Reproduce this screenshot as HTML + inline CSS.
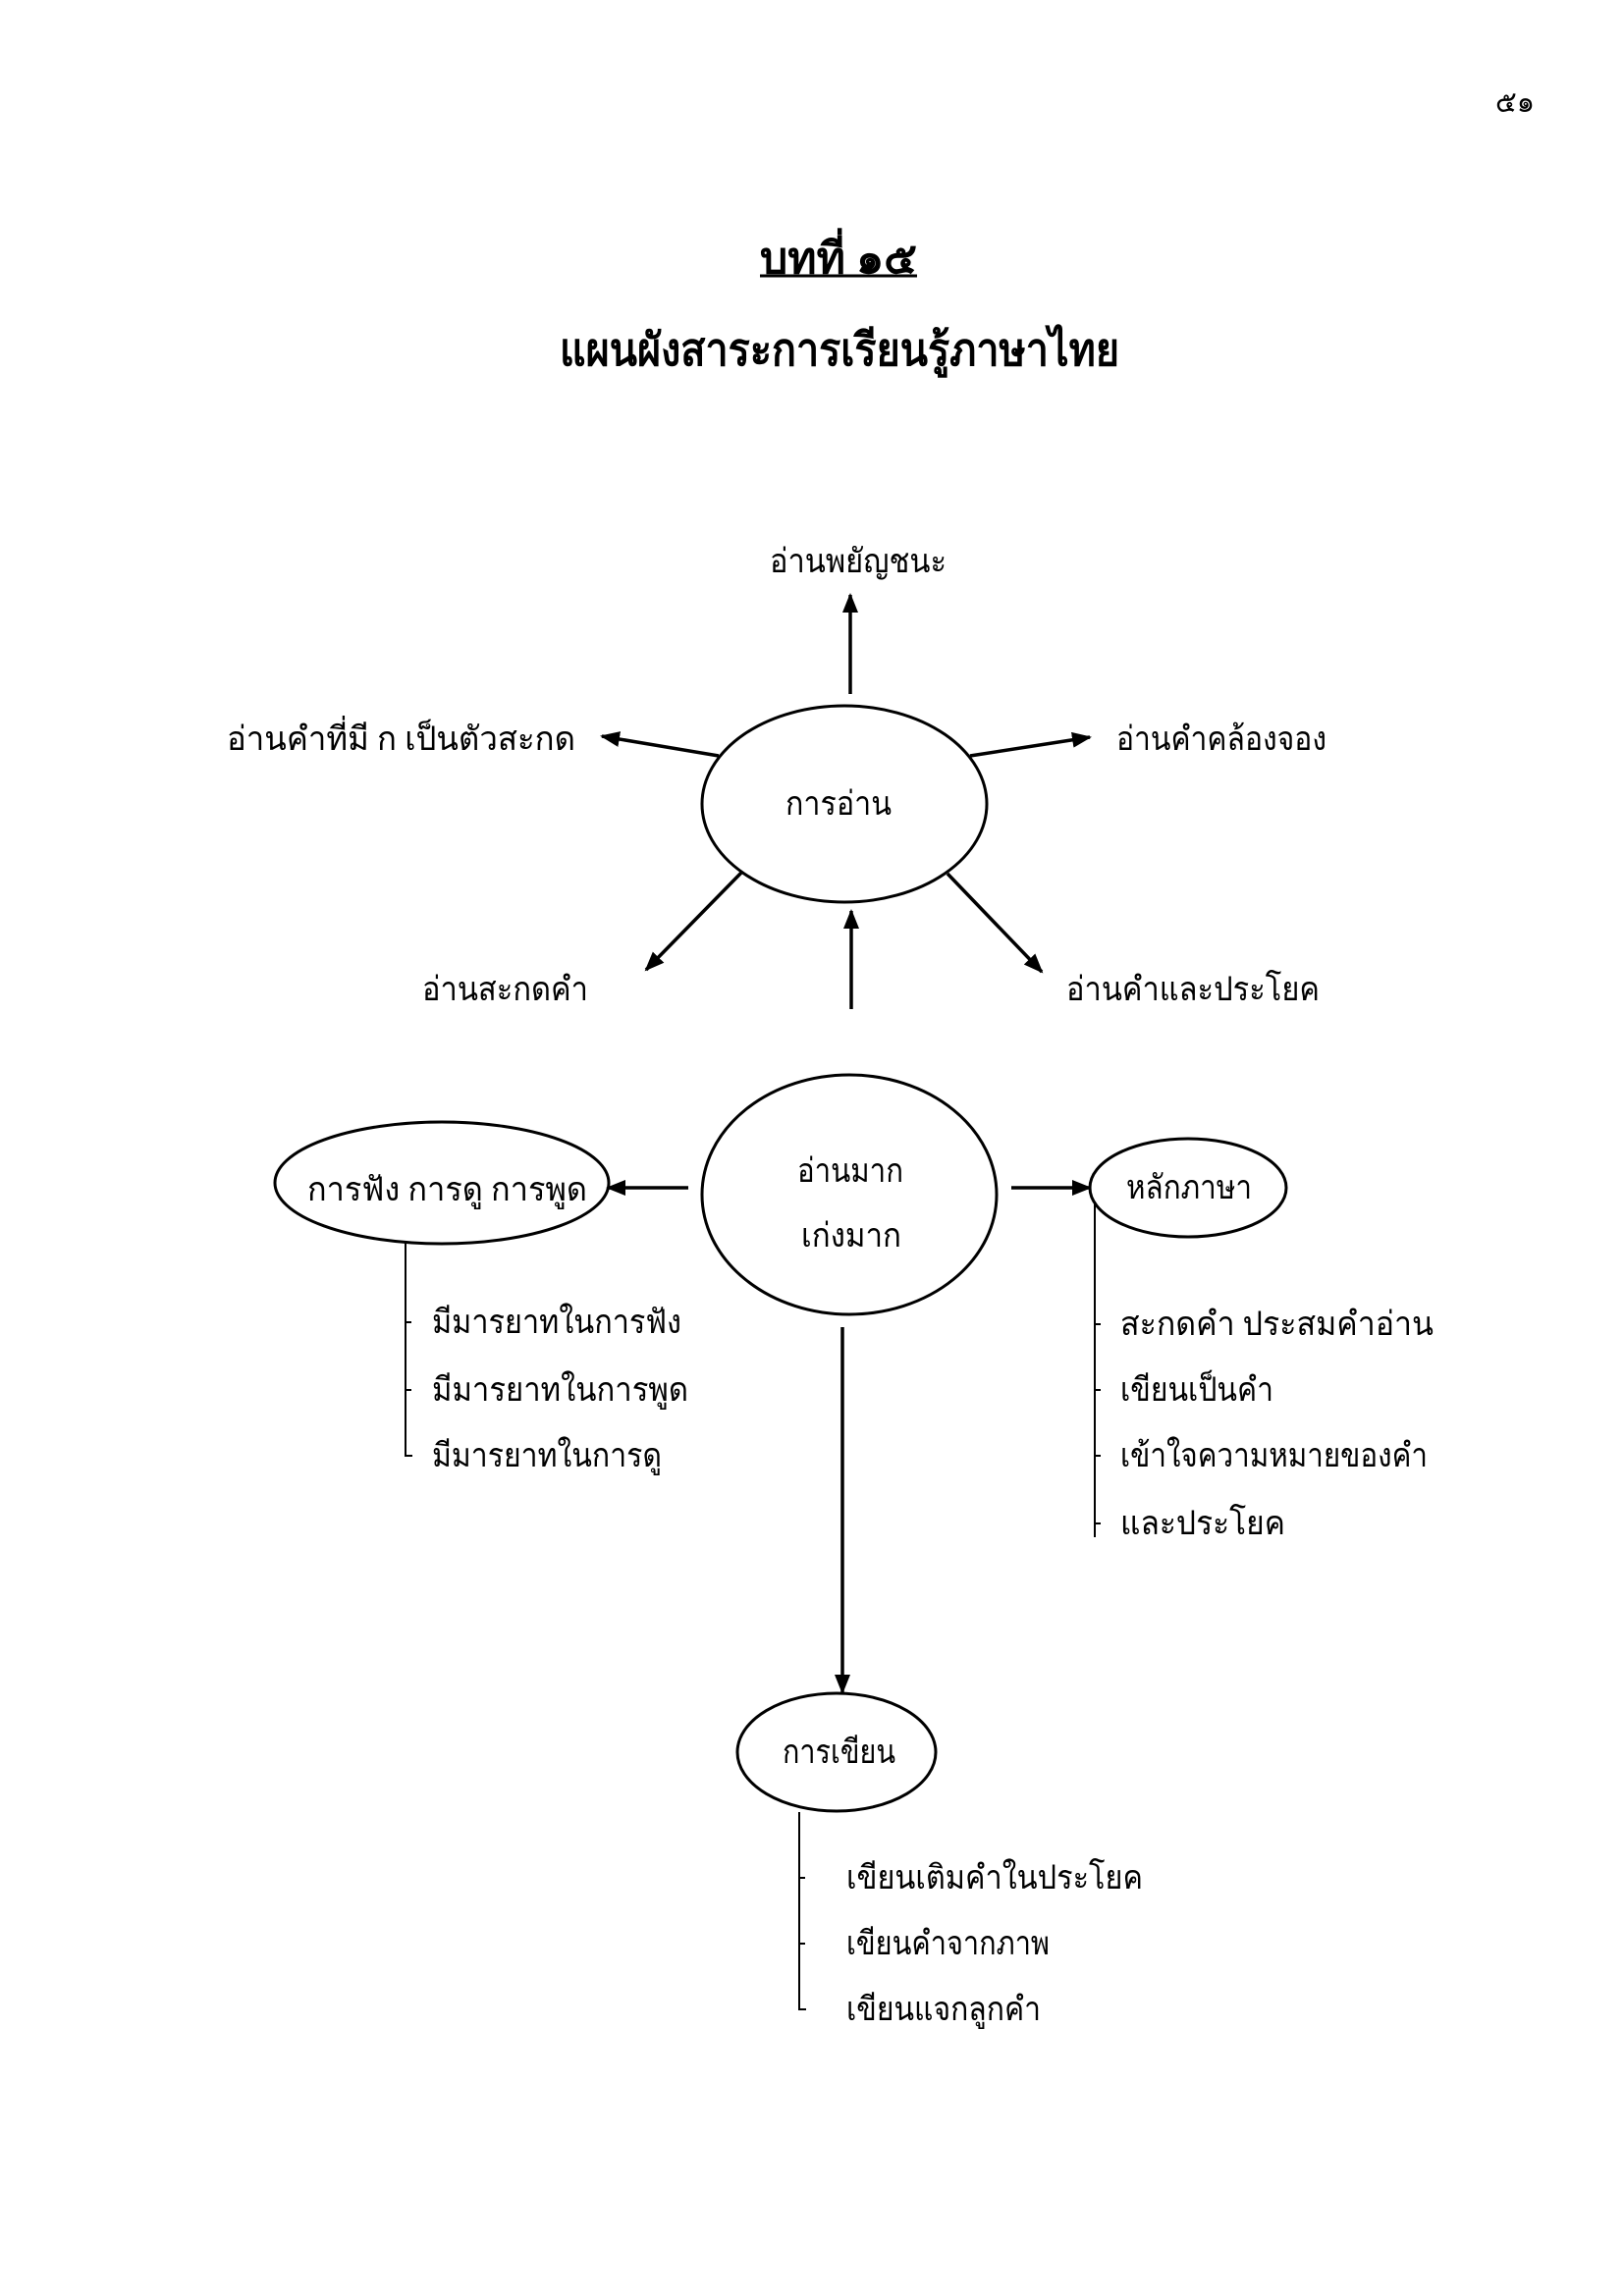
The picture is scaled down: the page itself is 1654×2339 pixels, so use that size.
<!DOCTYPE html>
<html><head><meta charset="utf-8"><style>
html,body{margin:0;padding:0;background:#fff;}
svg{display:block}
text{font-family:"Liberation Serif","Noto Serif CJK SC","Noto Sans CJK SC",serif;fill:#000;}
</style></head><body>
<svg width="1654" height="2339" viewBox="0 0 1654 2339" xmlns="http://www.w3.org/2000/svg">
<defs>
<marker id="a" markerWidth="20" markerHeight="16" refX="18" refY="8" orient="auto" markerUnits="userSpaceOnUse" viewBox="0 0 20 16">
<path d="M0,0 L20,8 L0,16 z" fill="#000"/>
</marker>
</defs>
<g font-size="30">
<text x="1523" y="114" textLength="40" lengthAdjust="spacingAndGlyphs">๕๑</text>
</g>
<g font-weight="bold">
<text x="774" y="278" font-size="44" textLength="160" lengthAdjust="spacingAndGlyphs">บทที่ ๑๕</text>
<line x1="774" y1="281" x2="934" y2="281" stroke="#000" stroke-width="3"/>
<text x="570" y="372" font-size="46" textLength="570" lengthAdjust="spacingAndGlyphs">แผนผังสาระการเรียนรู้ภาษาไทย</text>
</g>
<g fill="none" stroke="#000" stroke-width="3">
<ellipse cx="860" cy="819" rx="145" ry="100"/>
<ellipse cx="865" cy="1217" rx="150" ry="122"/>
<ellipse cx="450" cy="1205" rx="170" ry="62"/>
<ellipse cx="1210" cy="1210" rx="100" ry="50"/>
<ellipse cx="852" cy="1785" rx="101" ry="60"/>
</g>
<g stroke="#000" stroke-width="3.5" marker-end="url(#a)">
<line x1="866" y1="707" x2="866" y2="606"/>
<line x1="732" y1="770" x2="613" y2="750"/>
<line x1="988" y1="770" x2="1110" y2="751"/>
<line x1="755" y1="889" x2="658" y2="988"/>
<line x1="965" y1="890" x2="1061" y2="990"/>
<line x1="867" y1="1028" x2="867" y2="928"/>
<line x1="701" y1="1210" x2="619" y2="1210"/>
<line x1="1030" y1="1210" x2="1110" y2="1210"/>
<line x1="858" y1="1352" x2="858" y2="1724"/>
</g>
<g stroke="#000" stroke-width="2" fill="none">
<path d="M413,1266 V1483 H420"/>
<path d="M413,1347 H419 M413,1416 H419"/>
<path d="M1115,1224 V1566"/>
<path d="M1115,1349 H1121 M1115,1416 H1121 M1115,1483 H1121 M1115,1552 H1121"/>
<path d="M814,1846 V2047 H821"/>
<path d="M814,1913 H820 M814,1980 H820"/>
</g>
<g font-size="34">
<text x="784" y="583" textLength="180" lengthAdjust="spacingAndGlyphs">อ่านพยัญชนะ</text>
<text x="231" y="764" textLength="355" lengthAdjust="spacingAndGlyphs">อ่านคำที่มี ก เป็นตัวสะกด</text>
<text x="1137" y="764" textLength="214" lengthAdjust="spacingAndGlyphs">อ่านคำคล้องจอง</text>
<text x="800" y="830" textLength="108" lengthAdjust="spacingAndGlyphs">การอ่าน</text>
<text x="430" y="1019" textLength="169" lengthAdjust="spacingAndGlyphs">อ่านสะกดคำ</text>
<text x="1086" y="1019" textLength="258" lengthAdjust="spacingAndGlyphs">อ่านคำและประโยค</text>
<text x="812" y="1204" textLength="108" lengthAdjust="spacingAndGlyphs">อ่านมาก</text>
<text x="816" y="1270" textLength="102" lengthAdjust="spacingAndGlyphs">เก่งมาก</text>
<text x="313" y="1223" textLength="285" lengthAdjust="spacingAndGlyphs">การฟัง การดู การพูด</text>
<text x="1147" y="1221" textLength="128" lengthAdjust="spacingAndGlyphs">หลักภาษา</text>
<text x="440" y="1358" textLength="254" lengthAdjust="spacingAndGlyphs">มีมารยาทในการฟัง</text>
<text x="440" y="1427" textLength="261" lengthAdjust="spacingAndGlyphs">มีมารยาทในการพูด</text>
<text x="440" y="1494" textLength="234" lengthAdjust="spacingAndGlyphs">มีมารยาทในการดู</text>
<text x="1141" y="1360" textLength="319" lengthAdjust="spacingAndGlyphs">สะกดคำ ประสมคำอ่าน</text>
<text x="1141" y="1427" textLength="156" lengthAdjust="spacingAndGlyphs">เขียนเป็นคำ</text>
<text x="1141" y="1494" textLength="313" lengthAdjust="spacingAndGlyphs">เข้าใจความหมายของคำ</text>
<text x="1141" y="1563" textLength="168" lengthAdjust="spacingAndGlyphs">และประโยค</text>
<text x="797" y="1796" textLength="115" lengthAdjust="spacingAndGlyphs">การเขียน</text>
<text x="862" y="1924" textLength="302" lengthAdjust="spacingAndGlyphs">เขียนเติมคำในประโยค</text>
<text x="862" y="1991" textLength="207" lengthAdjust="spacingAndGlyphs">เขียนคำจากภาพ</text>
<text x="862" y="2058" textLength="198" lengthAdjust="spacingAndGlyphs">เขียนแจกลูกคำ</text>
</g>
</svg>
</body></html>
